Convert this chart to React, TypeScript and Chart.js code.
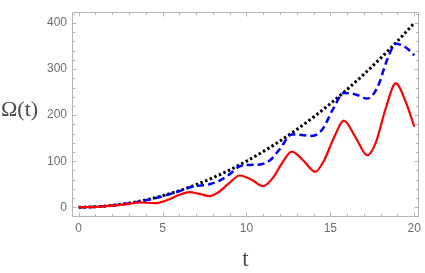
import React, { useEffect, useRef } from "react";
import { Chart, registerables } from "chart.js";

Chart.register(...registerables);

// Black dotted curve
const blackT = [0, 1, 2, 3, 4, 5, 6, 7, 8, 9, 10, 11, 12, 13, 14, 15, 16, 17, 18, 19, 20];
const blackV = [0, 1, 4, 9, 16, 25, 36, 49, 64, 81, 100, 121, 144, 169, 196, 225, 256, 289, 324, 361, 400];

// Blue dashed curve
const blueT = [0, 1, 2, 3, 4, 5, 6, 6.6, 7.2, 7.8, 8.4, 9, 9.6, 10.2, 10.8, 11.4, 12, 12.7, 13.3, 13.9, 14.5, 15.2, 15.8, 16.5, 17.2, 17.8, 18.4, 18.9, 19.5, 20];
const blueV = [0, 1, 4, 8.5, 15, 24, 35, 43, 47, 50, 58, 72, 89, 92, 93, 102, 127, 158, 157, 155, 168, 216, 248, 245, 236, 260, 322, 355, 347, 330];

// Red solid curve
const redT = [0, 0.5, 1, 1.5, 2, 2.5, 3, 3.6, 4.6, 5, 5.5, 6, 6.6, 7.2, 7.8, 8.3, 8.9, 9.6, 10.3, 11, 11.6, 12.1, 12.7, 13.4, 14.1, 14.6, 15.2, 15.8, 16.5, 17.2, 17.7, 18.3, 18.9, 19.5, 20];
const redV = [0, 0.3, 1, 2, 3.5, 5, 7.5, 10.5, 9, 12, 19, 27, 33, 29, 24, 32, 50, 69, 60, 46, 65, 95, 121, 101, 77, 100, 150, 188, 152, 113, 140, 215, 269, 228, 175];

const xTickLabels = [0, 5, 10, 15, 20];
const yTickLabels = [0, 100, 200, 300, 400];

const yLabel = "Ω(t)";
const xLabel = "t";

const toPts = (ts: number[], vs: number[]) => ts.map((t, i) => ({ x: t, y: vs[i] }));

const framePlugin = {
  id: "frameTicks",
  afterDraw(chart: any) {
    const { ctx, chartArea, scales } = chart;
    const xs = scales.x;
    const ys = scales.y;
    const L = Math.round(chartArea.left) + 0.5;
    const R = Math.round(chartArea.right) - 0.5;
    const T = Math.round(chartArea.top) + 0.5;
    const B = Math.round(chartArea.bottom) - 0.5;
    ctx.save();
    ctx.strokeStyle = "#b5b5b5";
    ctx.lineWidth = 1;
    ctx.beginPath();
    ctx.rect(L, T, R - L, B - T);
    ctx.stroke();
    ctx.beginPath();
    for (let v = 0; v <= 20; v += 1) {
      const len = v % 5 === 0 ? 4 : 2.5;
      const px = Math.round(xs.getPixelForValue(v)) + 0.5;
      ctx.moveTo(px, B);
      ctx.lineTo(px, B - len);
      ctx.moveTo(px, T);
      ctx.lineTo(px, T + len);
    }
    for (let v = -20; v <= 420; v += 20) {
      const len = v % 100 === 0 ? 4 : 2.5;
      const py = Math.round(ys.getPixelForValue(v)) + 0.5;
      if (py < T || py > B) continue;
      ctx.moveTo(L, py);
      ctx.lineTo(L + len, py);
      ctx.moveTo(R, py);
      ctx.lineTo(R - len, py);
    }
    ctx.stroke();

    ctx.fillStyle = "#4a4a4a";
    ctx.font = "22px 'Liberation Serif'";
    ctx.textAlign = "left";
    ctx.textBaseline = "middle";
    ctx.fillText(yLabel, 1, 110);
    ctx.font = "23px 'Liberation Serif'";
    ctx.textAlign = "center";
    ctx.textBaseline = "alphabetic";
    ctx.fillText(xLabel, (chartArea.left + chartArea.right) / 2, 265.5);
    ctx.restore();
  },
};

export default function App() {
  const ref = useRef<HTMLCanvasElement | null>(null);
  useEffect(() => {
    document.body.style.margin = "0";
    const canvas = ref.current;
    if (!canvas) return;
    const tickFont = { family: "'Liberation Sans', Arial, sans-serif", size: 12 };
    const chart = new Chart(canvas, {
      type: "line",
      data: {
        datasets: [
          {
            data: toPts(redT, redV),
            borderColor: "#ff0000",
            borderWidth: 2.2,
            pointRadius: 0,
            fill: false,
            cubicInterpolationMode: "monotone",
          },
          {
            data: toPts(blueT, blueV),
            borderColor: "#0000ff",
            borderWidth: 2.5,
            borderDash: [7, 4],
            pointRadius: 0,
            fill: false,
            cubicInterpolationMode: "monotone",
          },
          {
            data: toPts(blackT, blackV),
            borderColor: "#000000",
            borderWidth: 3,
            borderDash: [2.5, 2.5],
            pointRadius: 0,
            fill: false,
            cubicInterpolationMode: "monotone",
          },
        ],
      },
      options: {
        animation: false,
        responsive: false,
        maintainAspectRatio: false,
        layout: { padding: { top: 0.5, right: 3.5, left: 0, bottom: 0 } },
        plugins: { legend: { display: false }, tooltip: { enabled: false } },
        scales: {
          x: {
            type: "linear",
            min: -0.396,
            max: 20.28,
            grid: { display: false, drawTicks: false },
            border: { display: false },
            afterFit: (s: any) => {
              s.height = 55.7;
            },
            afterBuildTicks: (s: any) => {
              s.ticks = xTickLabels.map((v) => ({ value: v }));
            },
            ticks: {
              color: "#6e6e6e",
              font: tickFont,
              padding: 4,
              maxRotation: 0,
              autoSkip: false,
            },
          },
          y: {
            type: "linear",
            min: -21.8,
            max: 423.6,
            grid: { display: false, drawTicks: false },
            border: { display: false },
            afterFit: (s: any) => {
              s.width = 72;
            },
            afterBuildTicks: (s: any) => {
              s.ticks = yTickLabels.map((v) => ({ value: v }));
            },
            ticks: {
              color: "#6e6e6e",
              font: tickFont,
              padding: 5,
              autoSkip: false,
            },
          },
        },
      },
      plugins: [framePlugin],
    } as any);
    return () => chart.destroy();
  }, []);
  return (
    <div style={{ position: "absolute", left: 0, top: 0, width: 425, height: 273 }}>
      <canvas ref={ref} width={425} height={273} style={{ width: 425, height: 273 }} />
    </div>
  );
}
